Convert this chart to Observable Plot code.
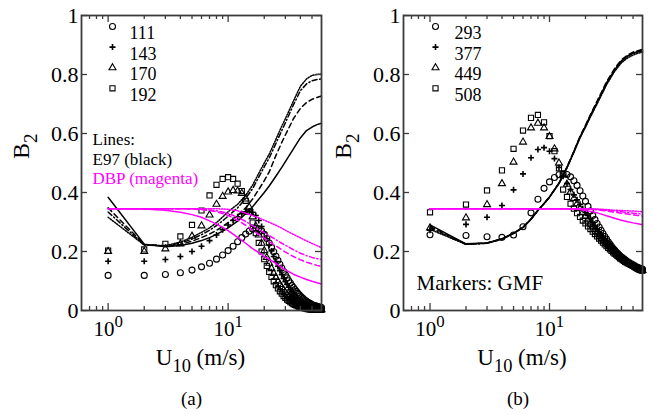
<!DOCTYPE html>
<html>
<head>
<meta charset="utf-8">
<script src="https://cdn.jsdelivr.net/npm/d3@7"></script>
<script src="https://cdn.jsdelivr.net/npm/@observablehq/plot@0.6"></script>
<style>
  html, body { margin: 0; padding: 0; background: #fff; }
  #wrap { display: flex; width: 652px; height: 415px; overflow: hidden; }
  #wrap svg, #wrap svg text, #wrap svg tspan { font-family: "Liberation Serif", "Times New Roman", Times, serif !important; }
</style>
</head>
<body>
<div id="wrap"></div>
<script>
// ---------- data ----------
// marker wind speeds (GMF), m/s
const U = [1,2,3,4,5,6,7,8,9,10,11,12,13,14,15,16,17,18,19,20,21,22,23,24,25,26,27,28,29,30,
           31,32,33,34,35,36,37,38,39,40,41,42,43,44,45,46,47,48,49,50,51,52,53,54,55,56,57,58,59,60];
// line wind speeds
const UL = [1,2,3,4,5,6,7,8,9,10,12,14,16,18,20,22,25,28,30,35,40,45,50,55,60];

// Panel (a) markers: GMF B2
const a111 = [0.119,0.119,0.122,0.128,0.137,0.148,0.160,0.174,0.188,0.203,
              0.218,0.233,0.247,0.259,0.269,0.276,0.279,0.277,0.270,0.258,
              0.244,0.229,0.214,0.199,0.184,0.170,0.157,0.144,0.132,0.121,
              0.111,0.101,0.093,0.085,0.078,0.071,0.065,0.059,0.054,0.049,
              0.045,0.041,0.037,0.034,0.031,0.028,0.026,0.024,0.022,0.020,
              0.018,0.017,0.016,0.015,0.014,0.013,0.012,0.011,0.011,0.010];
const a143 = [0.167,0.167,0.173,0.183,0.200,0.218,0.237,0.256,0.274,0.290,
              0.305,0.318,0.328,0.335,0.337,0.333,0.322,0.305,0.285,0.264,
              0.243,0.222,0.202,0.183,0.166,0.150,0.135,0.121,0.109,0.098,
              0.088,0.079,0.070,0.063,0.056,0.050,0.045,0.040,0.036,0.032,
              0.029,0.026,0.023,0.021,0.019,0.017,0.015,0.014,0.012,0.011,
              0.010,0.009,0.008,0.008,0.007,0.007,0.006,0.006,0.005,0.005];
const a170 = [0.200,0.200,0.209,0.226,0.252,0.287,0.324,0.360,0.387,0.402,
              0.407,0.405,0.397,0.378,0.350,0.318,0.286,0.256,0.228,0.203,
              0.180,0.160,0.142,0.126,0.112,0.099,0.088,0.078,0.069,0.061,
              0.054,0.048,0.043,0.038,0.034,0.030,0.027,0.024,0.021,0.019,
              0.017,0.015,0.013,0.012,0.011,0.010,0.009,0.008,0.007,0.006,
              0.006,0.005,0.005,0.004,0.004,0.004,0.003,0.003,0.003,0.003];
const a192 = [0.203,0.207,0.226,0.251,0.290,0.339,0.390,0.426,0.446,0.452,
              0.446,0.430,0.405,0.372,0.335,0.298,0.262,0.229,0.200,0.174,
              0.151,0.131,0.114,0.099,0.086,0.075,0.065,0.057,0.049,0.043,
              0.037,0.033,0.028,0.025,0.022,0.019,0.017,0.015,0.013,0.011,
              0.010,0.009,0.008,0.007,0.006,0.005,0.005,0.004,0.004,0.003,
              0.003,0.003,0.003,0.002,0.002,0.002,0.002,0.002,0.002,0.002];

// Panel (a) lines
const aE97Solid   = [0.384,0.225,0.216,0.220,0.228,0.237,0.247,0.258,0.269,0.280,0.303,0.328,0.352,0.377,0.400,0.422,0.455,0.485,0.505,0.548,0.585,0.610,0.622,0.630,0.635];
const aE97Dash    = [0.348,0.224,0.218,0.224,0.235,0.247,0.259,0.272,0.285,0.298,0.322,0.348,0.378,0.410,0.440,0.470,0.525,0.570,0.595,0.650,0.685,0.705,0.716,0.722,0.727];
const aE97DashDot = [0.334,0.222,0.219,0.228,0.242,0.257,0.272,0.288,0.304,0.320,0.348,0.380,0.413,0.452,0.487,0.517,0.566,0.610,0.636,0.697,0.745,0.768,0.779,0.783,0.785];
const aE97Dot     = [0.316,0.222,0.220,0.232,0.248,0.265,0.280,0.298,0.317,0.335,0.360,0.390,0.425,0.465,0.500,0.530,0.580,0.625,0.650,0.710,0.760,0.785,0.797,0.800,0.802];
const aDBPSolid   = [0.345,0.344,0.340,0.333,0.325,0.316,0.304,0.293,0.282,0.271,0.248,0.228,0.210,0.196,0.183,0.173,0.160,0.146,0.138,0.123,0.113,0.105,0.099,0.094,0.090];
const aDBPDash    = [0.345,0.345,0.345,0.345,0.344,0.342,0.339,0.335,0.329,0.322,0.306,0.289,0.273,0.258,0.245,0.234,0.219,0.206,0.198,0.183,0.172,0.164,0.158,0.153,0.149];
const aDBPDashDot = [0.345,0.345,0.345,0.345,0.345,0.343,0.341,0.338,0.334,0.329,0.316,0.302,0.288,0.275,0.264,0.254,0.240,0.228,0.221,0.206,0.194,0.186,0.180,0.176,0.173];
const aDBPDot     = [0.345,0.345,0.345,0.345,0.345,0.345,0.345,0.345,0.344,0.343,0.338,0.330,0.322,0.314,0.306,0.299,0.289,0.279,0.272,0.258,0.246,0.236,0.227,0.220,0.213];

// Panel (b) markers
const b293 = [0.257,0.254,0.250,0.248,0.256,0.284,0.331,0.377,0.414,0.436,
              0.451,0.460,0.463,0.461,0.453,0.440,0.424,0.406,0.388,0.370,
              0.353,0.337,0.322,0.308,0.295,0.283,0.272,0.261,0.251,0.242,
              0.233,0.225,0.218,0.211,0.205,0.199,0.194,0.189,0.184,0.180,
              0.176,0.172,0.169,0.166,0.163,0.160,0.158,0.156,0.154,0.152,
              0.150,0.148,0.147,0.146,0.145,0.144,0.143,0.142,0.141,0.140];
const b377 = [0.272,0.292,0.316,0.356,0.409,0.463,0.518,0.546,0.552,0.540,
              0.515,0.485,0.455,0.430,0.410,0.392,0.375,0.360,0.345,0.332,
              0.322,0.310,0.298,0.287,0.277,0.267,0.258,0.250,0.243,0.236,
              0.229,0.223,0.217,0.211,0.206,0.201,0.196,0.192,0.188,0.184,
              0.180,0.176,0.173,0.170,0.167,0.164,0.161,0.159,0.156,0.154,
              0.152,0.150,0.148,0.146,0.145,0.143,0.141,0.140,0.139,0.137];
const b449 = [0.280,0.314,0.359,0.430,0.503,0.571,0.619,0.635,0.619,0.590,
              0.548,0.500,0.460,0.428,0.402,0.380,0.362,0.346,0.332,0.319,
              0.307,0.296,0.286,0.276,0.267,0.259,0.251,0.244,0.237,0.230,
              0.224,0.218,0.212,0.207,0.202,0.197,0.193,0.189,0.185,0.181,
              0.177,0.174,0.171,0.168,0.165,0.162,0.160,0.157,0.155,0.153,
              0.151,0.149,0.147,0.145,0.143,0.141,0.140,0.138,0.137,0.136];
const b508 = [0.333,0.359,0.407,0.475,0.548,0.610,0.653,0.663,0.638,0.591,
              0.540,0.482,0.410,0.385,0.362,0.345,0.330,0.317,0.305,0.295,
              0.285,0.276,0.267,0.259,0.251,0.244,0.237,0.230,0.224,0.218,
              0.212,0.207,0.202,0.197,0.193,0.189,0.185,0.181,0.177,0.174,
              0.171,0.168,0.165,0.163,0.161,0.159,0.157,0.155,0.153,0.151,
              0.149,0.147,0.145,0.143,0.141,0.139,0.138,0.137,0.136,0.135];

// Panel (b) lines
const bE97Solid   = [0.290,0.226,0.229,0.243,0.262,0.282,0.310,0.340,0.363,0.385,0.432,0.485,0.538,0.588,0.625,0.660,0.705,0.745,0.770,0.815,0.845,0.862,0.872,0.878,0.882];
const bE97Dash    = [0.285,0.225,0.229,0.243,0.262,0.282,0.310,0.340,0.363,0.385,0.432,0.486,0.540,0.590,0.628,0.664,0.710,0.750,0.775,0.820,0.850,0.866,0.876,0.881,0.885];
const bE97DashDot = [0.280,0.224,0.228,0.242,0.261,0.281,0.309,0.339,0.362,0.384,0.431,0.485,0.539,0.588,0.625,0.661,0.706,0.746,0.771,0.816,0.846,0.862,0.872,0.877,0.880];
const bE97Dot     = [0.275,0.224,0.228,0.242,0.261,0.281,0.309,0.339,0.362,0.384,0.430,0.483,0.536,0.585,0.621,0.656,0.700,0.740,0.765,0.810,0.840,0.856,0.866,0.872,0.876];
const bDBPSolid   = [0.345,0.345,0.345,0.345,0.345,0.345,0.345,0.345,0.345,0.345,0.345,0.345,0.344,0.342,0.339,0.336,0.331,0.325,0.321,0.313,0.306,0.301,0.297,0.294,0.291];
const bDBPDash    = [0.345,0.345,0.345,0.345,0.345,0.345,0.345,0.345,0.345,0.345,0.345,0.345,0.345,0.344,0.344,0.343,0.341,0.339,0.337,0.333,0.330,0.327,0.324,0.322,0.320];
const bDBPDashDot = [0.345,0.345,0.345,0.345,0.345,0.345,0.345,0.345,0.345,0.345,0.345,0.345,0.345,0.345,0.345,0.344,0.343,0.341,0.340,0.337,0.335,0.332,0.330,0.328,0.327];
const bDBPDot     = [0.345,0.345,0.345,0.345,0.345,0.345,0.345,0.345,0.345,0.345,0.345,0.345,0.345,0.345,0.345,0.345,0.344,0.343,0.342,0.340,0.339,0.338,0.337,0.336,0.335];

// legend / axis text
const aLegend = ["111","143","170","192"];
const bLegend = ["293","377","449","508"];
const noteLines = ["Lines:", "E97 (black)", "DBP (magenta)"];
const noteMarkers = "Markers: GMF";
const xMajor = [1, 10];
const xMajorLabels = ["10^{0}", "10^{1}"];
const xMinor = [0.7,0.8,0.9,2,3,4,5,6,7,8,9,20,30,40,50];
const yTicks = [0, 0.2, 0.4, 0.6, 0.8, 1];
const yTickLabels = ["0","0.2","0.4","0.6","0.8","1"];
const yLabel = "B_{2}";
const xLabel = "U_{10} (m/s)";

// ---------- drawing ----------
const FONT = "Liberation Serif";
const MAGENTA = "#ff00ff";
const FRAME = "#3c3c3c";
const dashes = [null, "5,3.5", "5,2.5,1.2,2.5", "1.2,1.5"];
const markerStyles = [
  {symbol: "circle",   r: 3.0, stroke: "black", fill: "none", strokeWidth: 1.1},
  {symbol: "plus",     r: 2.1, stroke: "black", fill: "none", strokeWidth: 1.6},
  {symbol: "triangle", r: 2.6, stroke: "black", fill: "none", strokeWidth: 1.1},
  {symbol: "square",   r: 2.9, stroke: "black", fill: "none", strokeWidth: 1.1}
];

function panel(cfg) {
  const W = 326, H = 415, mt = 15, mb = 105;
  const ml = cfg.ml, mr = cfg.mr;
  const pw = W - ml - mr, ph = H - mt - mb;
  const marks = [];
  const T = {fontFamily: FONT, fill: "black"};

  cfg.markers.forEach((vals, i) => {
    marks.push(Plot.dot(U.map((u, j) => ({u, v: vals[j]})), {x: "u", y: "v", ...markerStyles[i]}));
  });
  cfg.black.forEach((vals, i) => {
    marks.push(Plot.line(UL.map((u, j) => ({u, v: vals[j]})),
      {x: "u", y: "v", stroke: "black", strokeWidth: 1.5, strokeDasharray: dashes[i]}));
  });
  cfg.magenta.forEach((vals, i) => {
    marks.push(Plot.line(UL.map((u, j) => ({u, v: vals[j]})),
      {x: "u", y: "v", stroke: MAGENTA, strokeWidth: 1.5, strokeDasharray: dashes[i]}));
  });

  marks.push(
    Plot.tickX(xMinor, {x: d => d, insetTop: ph - 4, stroke: FRAME, strokeWidth: 1.3}),
    Plot.tickX(xMajor, {x: d => d, insetTop: ph - 7, stroke: FRAME, strokeWidth: 1.3}),
    Plot.tickX(xMinor, {x: d => d, insetBottom: ph - 4, stroke: FRAME, strokeWidth: 1.3}),
    Plot.tickX(xMajor, {x: d => d, insetBottom: ph - 7, stroke: FRAME, strokeWidth: 1.3}),
    Plot.tickY(yTicks, {y: d => d, insetRight: pw - 6, stroke: FRAME, strokeWidth: 1.3}),
    Plot.tickY(yTicks, {y: d => d, insetLeft: pw - 6, stroke: FRAME, strokeWidth: 1.3}),
    Plot.frame({stroke: FRAME, strokeWidth: 1.8})
  );

  marks.push(
    Plot.text(yTicks, {y: d => d, frameAnchor: "left", textAnchor: "end", dx: -3,
      text: (d, i) => yTickLabels[i], fontSize: 22, ...T}),
    Plot.text(xMajor, {x: d => d, frameAnchor: "bottom", dy: 25,
      text: (d, i) => xMajorLabels[i], fontSize: 21, ...T})
  );
  marks.push(
    Plot.text([yLabel], {frameAnchor: "left", dx: -60, dy: -4, rotate: -90, fontSize: 24, ...T}),
    Plot.text([xLabel], {frameAnchor: "bottom", dy: 54, dx: -1, fontSize: 23, ...T}),
    Plot.text([cfg.caption], {frameAnchor: "bottom", dy: 94, dx: cfg.capDx, fontSize: 19, ...T})
  );
  cfg.legend.forEach((lab, i) => {
    marks.push(
      Plot.dot([lab], {frameAnchor: "top-left", dx: cfg.legSym, dy: 11 + i * 20.6, ...markerStyles[i]}),
      Plot.text([lab], {frameAnchor: "top-left", dx: cfg.legTxt, dy: 11 + i * 20.6, textAnchor: "start",
        fontSize: 18, ...T})
    );
  });
  cfg.notes.forEach(n => {
    marks.push(Plot.text([n.text], {frameAnchor: "top-left", dx: n.dx, dy: n.dy, textAnchor: "start",
      fontSize: n.size, fontFamily: FONT, fill: n.color}));
  });

  return Plot.plot({
    width: W, height: H,
    marginTop: mt, marginBottom: mb, marginLeft: ml, marginRight: mr,
    x: {type: "log", domain: [0.6, 60], axis: null},
    y: {domain: [0, 1], axis: null},
    style: {background: "white", color: "black", overflow: "visible"},
    marks
  });
}

function richify(svg) {
  svg.querySelectorAll("text").forEach(t => {
    const s = t.textContent;
    if (!/[_^]\{/.test(s)) return;
    const fs = parseFloat(getComputedStyle(t).fontSize) || 20;
    const parts = s.split(/([_^]\{[^}]*\})/).filter(Boolean);
    t.textContent = "";
    let off = 0;
    for (const part of parts) {
      const m = part.match(/^([_^])\{([^}]*)\}$/);
      const ts = document.createElementNS("http://www.w3.org/2000/svg", "tspan");
      let target = 0;
      if (m) {
        target = m[1] === "^" ? -0.42 * fs : 0.32 * fs;
        ts.setAttribute("font-size", (0.8 * fs).toFixed(1));
        ts.textContent = m[2];
      } else {
        ts.textContent = part;
      }
      const dy = target - off;
      if (dy) ts.setAttribute("dy", dy.toFixed(2));
      off = target;
      t.appendChild(ts);
    }
  });
}

const wrap = document.getElementById("wrap");
const A = panel({
  ml: 81, mr: 5, caption: "(a)", capDx: -10,
  markers: [a111, a143, a170, a192],
  black: [aE97Solid, aE97Dash, aE97DashDot, aE97Dot],
  magenta: [aDBPSolid, aDBPDash, aDBPDashDot, aDBPDot],
  legend: aLegend, legSym: 31, legTxt: 48,
  notes: [
    {text: noteLines[0], dx: 11, dy: 117.5, size: 17, color: "black"},
    {text: noteLines[1], dx: 11, dy: 137, size: 17, color: "black"},
    {text: noteLines[2], dx: 11, dy: 156.5, size: 17, color: MAGENTA}
  ]
});
const B = panel({
  ml: 77, mr: 10, caption: "(b)", capDx: -5,
  markers: [b293, b377, b449, b508],
  black: [bE97Solid, bE97Dash, bE97DashDot, bE97Dot],
  magenta: [bDBPSolid, bDBPDash, bDBPDashDot, bDBPDot],
  legend: bLegend, legSym: 32, legTxt: 51,
  notes: [
    {text: noteMarkers, dx: 13, dy: 260, size: 21, color: "black"}
  ]
});
wrap.appendChild(A);
wrap.appendChild(B);
richify(A);
richify(B);
</script>
</body>
</html>
